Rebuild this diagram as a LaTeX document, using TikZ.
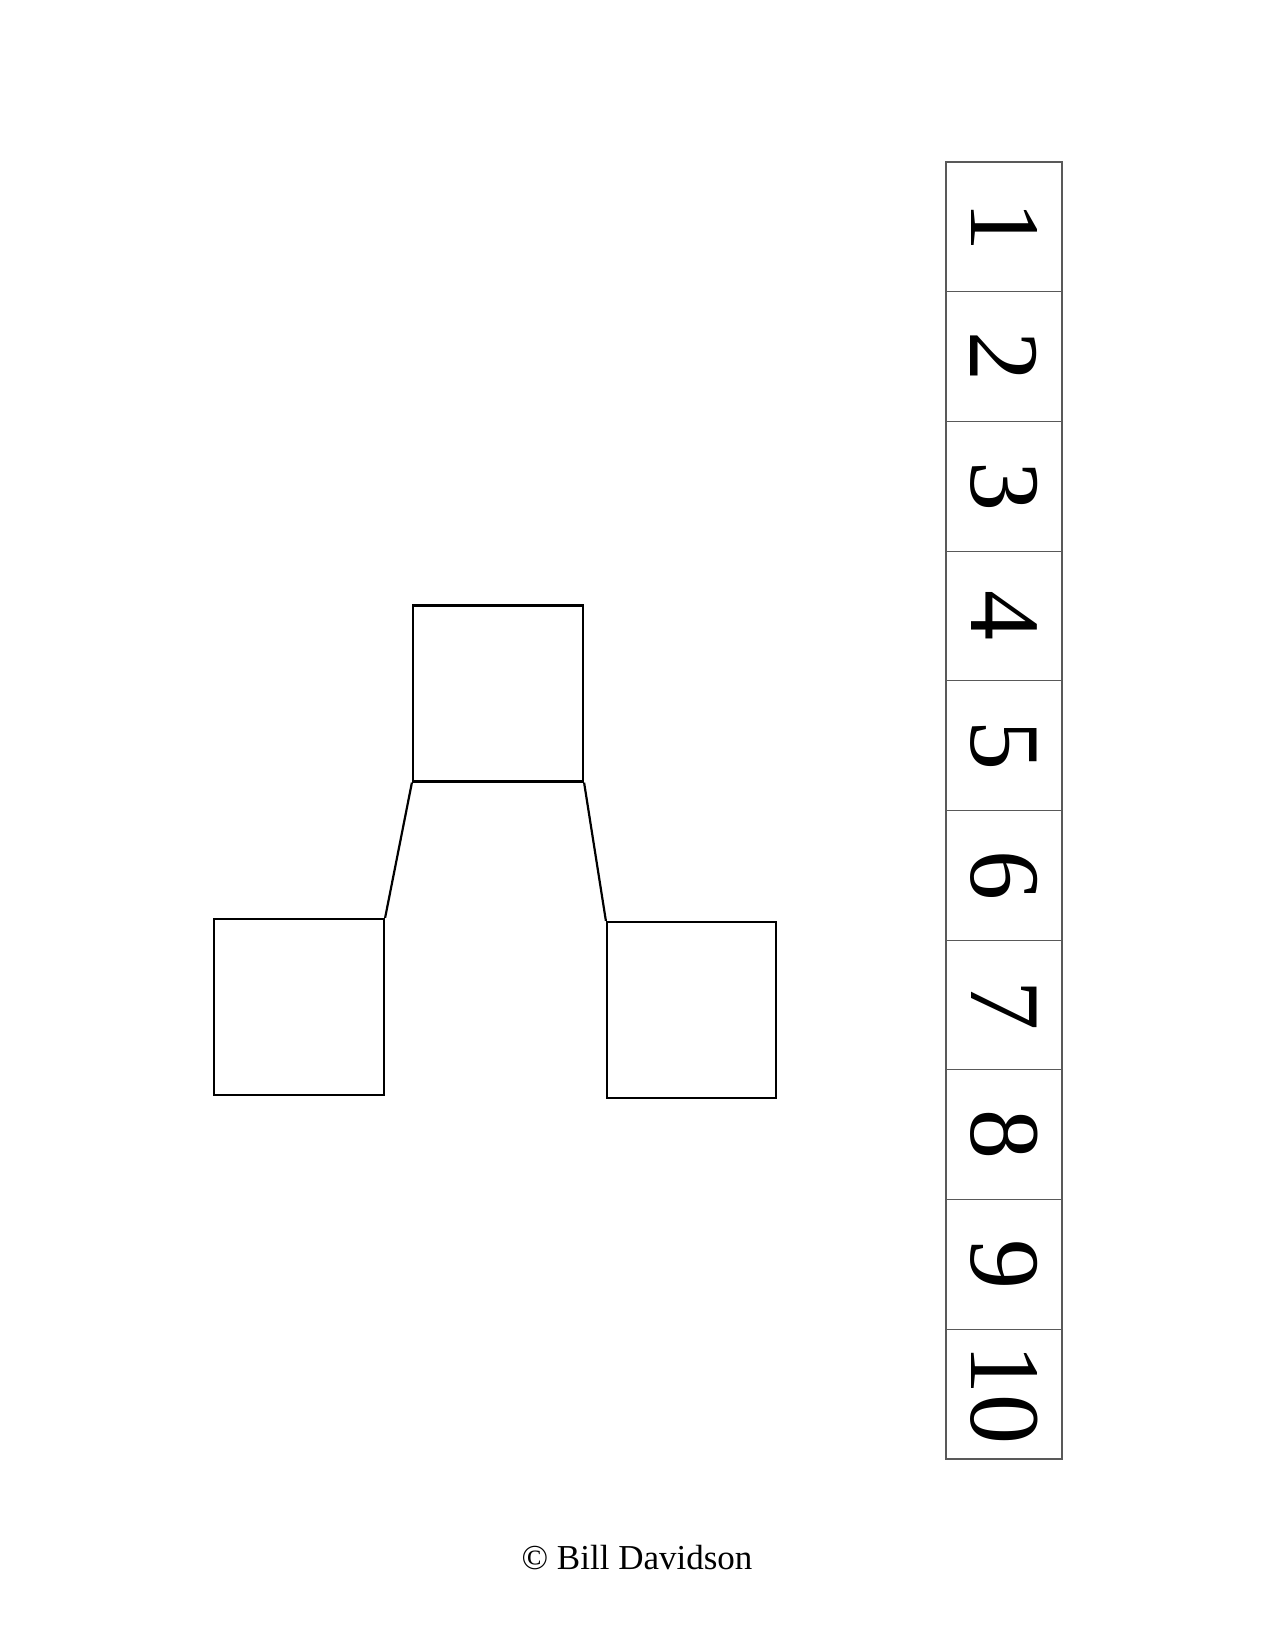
\documentclass[tikz,border=0pt]{standalone}
\usepackage{fontspec}
\setmainfont{Liberation Serif}
\usepackage{graphicx}
\begin{document}
\begin{tikzpicture}[x=0.48bp,y=-0.48bp,
  sq/.style={draw=black,line width=1.05bp,minimum width=170*0.48bp,minimum height=176*0.48bp,inner sep=0pt},
  cell/.style={draw=black!65,line width=0.55bp,minimum width=116*0.48bp,minimum height=129.7*0.48bp,inner sep=0pt,font=\fontsize{48bp}{48bp}\selectfont},
  link/.style={draw=black,line width=1.05bp}]
\useasboundingbox (0,0) rectangle (1275,1650);
\fill[white] (0,0) rectangle (1275,1650);
\node[sq] (top) at (498,693.5) {};
\node[sq,minimum width=170*0.48bp] (left) at (299,1007) {};
\node[sq,minimum width=169*0.48bp] (right) at (691.5,1010) {};
\draw[link] (top.south west) -- (left.north east);
\draw[link] (top.south east) -- (right.north west);
\foreach \i in {1,...,10} {
  \node[cell] (c\i) at (1004,{162+129.7*(\i-0.5)}) {\rotatebox{-90}{\i}};
}
\node[font=\fontsize{16.8bp}{19bp}\selectfont,anchor=base] (copy) at (637,1569) {© Bill Davidson};
\end{tikzpicture}
\end{document}
